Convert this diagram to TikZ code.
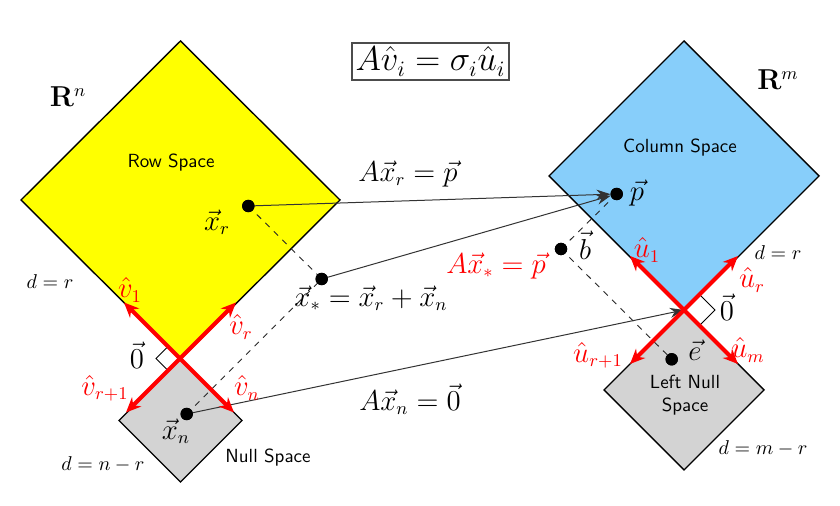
\documentclass[tikz,border=0pt]{standalone}
\usetikzlibrary{arrows.meta}
\definecolor{rowyellow}{RGB}{255,255,0}
\definecolor{colblue}{RGB}{135,206,250}
\definecolor{nullgray}{RGB}{211,211,211}
\begin{document}
\begin{tikzpicture}[x=0.5pt,y=-0.5pt,
  every node/.style={inner sep=0pt, outer sep=0pt},
  space/.style={draw=black, line width=0.7pt},
  dot/.style={circle, fill=black, minimum size=6.2pt, inner sep=0pt},
  basis/.style={red, line width=2pt, -{Stealth[length=7.5pt,width=6.5pt]}},
  mapto/.style={black!80, line width=0.5pt, -{Stealth[length=7pt,width=5pt]}},
  perp/.style={black!85, line width=0.45pt, dash pattern=on 3pt off 3pt},
  rangle/.style={black, line width=0.45pt},
  lab/.style={font=\fontsize{13.5}{16}\selectfont},
  rlab/.style={lab, text=red},
  sflab/.style={font=\sffamily\fontsize{9.5}{11.5}\selectfont, align=center},
  dlab/.style={font=\fontsize{10.3}{12}\selectfont},
]
\useasboundingbox (0,0) rectangle (840,506);

% origins
\coordinate (O1) at (180,358.5);
\coordinate (O2) at (684,310);

% subspaces
\draw[space, fill=rowyellow] (180.5,41) -- (340,200) -- (180.5,359) -- (21,200) -- cycle;
\draw[space, fill=nullgray] (180.5,359) -- (242,420.5) -- (180.5,482) -- (119,420.5) -- cycle;
\draw[space, fill=colblue] (684,41) -- (819,176) -- (684,311) -- (549,176) -- cycle;
\draw[space, fill=nullgray] (684,310) -- (764,390) -- (684,470) -- (604,390) -- cycle;

% right-angle marks
\draw[rangle] (168,346.5) -- (156,358.5) -- (168,370.5);
\draw[rangle] (699.5,294.5) -- (715,310) -- (699.5,325.5);

% points
\node[dot] (xr) at (248.3,206) {};
\node[dot] (xs) at (321.7,279) {};
\node[dot] (xn) at (186.7,414) {};
\node[dot] (p) at (616.7,194) {};
\node[dot] (b) at (561,249) {};
\node[dot] (e) at (671.7,359.3) {};

% dashed decompositions
\draw[perp] (xr.center) -- (xs.center);
\draw[perp] (xn.center) -- (xs.center);
\draw[perp] (p.center) -- (b.center);
\draw[perp] (b.center) -- (e.center);

% maps
\draw[mapto] (xr.center) -- (p);
\draw[mapto] (xs.center) -- (p);
\draw[mapto] (xn.center) -- (O2);

% basis vectors
\coordinate (v1) at (124,302.5);
\coordinate (vr) at (236,302.5);
\coordinate (vr1) at (126,412.5);
\coordinate (vn) at (234,412.5);
\coordinate (u1) at (630,256);
\coordinate (ur) at (738,256);
\coordinate (ur1) at (630,364);
\coordinate (um) at (738,364);
\draw[basis] (O1) -- (v1);
\draw[basis] (O1) -- (vr);
\draw[basis] (O1) -- (vr1);
\draw[basis] (O1) -- (vn);
\draw[basis] (O2) -- (u1);
\draw[basis] (O2) -- (ur);
\draw[basis] (O2) -- (ur1);
\draw[basis] (O2) -- (um);

% redraw dots on top
\fill (xr) circle (3.1pt);
\fill (xs) circle (3.1pt);
\fill (xn) circle (3.1pt);
\fill (p) circle (3.1pt);
\fill (b) circle (3.1pt);
\fill (e) circle (3.1pt);

% labels
\node[draw=black!70, line width=0.6pt, minimum width=78.5pt, minimum height=18.5pt,
      font=\fontsize{16}{19}\selectfont] (eq) at (430.5,61.5) {$A\hat{v}_i=\sigma_i\hat{u}_i$};
\node[lab] (Rn) at (68,97) {$\mathbf{R}^n$};
\node[lab] (Rm) at (778,80) {$\mathbf{R}^m$};
\node[sflab] (rowl) at (171,163) {Row Space};
\node[sflab] (coll) at (680,148) {Column Space};
\node[sflab] (nulll) at (268,458) {Null Space};
\node[sflab] (lnulll) at (685,395) {Left Null\\Space};
\node[lab] (xrl) at (217,222) {$\vec{x}_r$};
\node[lab] (xnl) at (176,431) {$\vec{x}_n$};
\node[lab] (xsl) at (371,298) {$\vec{x}_*=\vec{x}_r+\vec{x}_n$};
\node[lab] (mapr) at (408,174) {$A\vec{x}_r=\vec{p}$};
\node[lab] (mapn) at (410,399) {$A\vec{x}_n=\vec{0}$};
\node[rlab] (maps) at (496,266) {$A\vec{x}_*=\vec{p}$};
\node[lab] (pl) at (637,193) {$\vec{p}$};
\node[lab] (bl) at (585,245) {$\vec{b}$};
\node[lab] (el) at (695,350) {$\vec{e}$};
\node[lab] (z1) at (137,355) {$\vec{0}$};
\node[lab] (z2) at (727,307) {$\vec{0}$};
\node[rlab] (v1l) at (130,290) {$\hat{v}_1$};
\node[rlab] (vrl) at (241,327) {$\hat{v}_r$};
\node[rlab] (vr1l) at (105,388) {$\hat{v}_{r+1}$};
\node[rlab] (vnl) at (247,388) {$\hat{v}_n$};
\node[rlab] (u1l) at (647,250) {$\hat{u}_1$};
\node[rlab] (url) at (752,280) {$\hat{u}_r$};
\node[rlab] (ur1l) at (598,355) {$\hat{u}_{r+1}$};
\node[rlab] (uml) at (748,350) {$\hat{u}_m$};
\node[dlab] (d1) at (50,282) {$d=r$};
\node[dlab] (d2) at (103,464) {$d=n-r$};
\node[dlab] (d3) at (778,253) {$d=r$};
\node[dlab] (d4) at (763,448) {$d=m-r$};
\end{tikzpicture}
\end{document}
